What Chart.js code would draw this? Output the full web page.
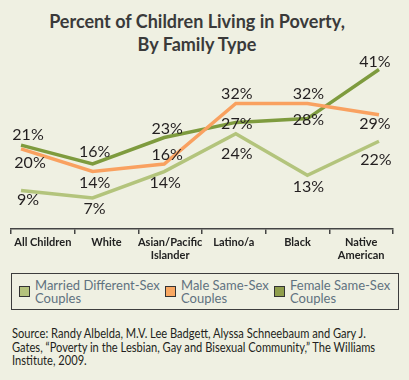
<!DOCTYPE html>
<html>
<head>
<meta charset="utf-8">
<script src="https://cdn.jsdelivr.net/npm/chart.js@4.4.1/dist/chart.umd.min.js"></script>
<style>
  body { margin: 0; background: #eff0e2; width: 409px; height: 380px; overflow: hidden; position: relative; }
  #title { position: absolute; left: 0; top: 10px; width: 394px; text-align: center;
           font: bold 18px Lato, sans-serif; line-height: 23px; color: #3a3a3a; }
  #wrap { position: absolute; left: 0; top: 0; width: 409px; height: 265px; }
  #legend { position: absolute; left: 11px; top: 273px; width: 379px; height: 35px;
            border: 1.5px solid #3d3d3d; display: flex; align-items: center; padding-left: 7px; box-sizing: content-box; }
  .item { display: flex; align-items: center; }
  .swatch { width: 9px; height: 9px; border: 1px solid #333; margin-right: 5px; flex: none; }
  .item span { font: 13px Lato, sans-serif; line-height: 13px; color: #5f7280; }
  #source { position: absolute; left: 12px; top: 326px; white-space: nowrap; transform-origin: 0 0;
            font: 14px Lato, sans-serif; line-height: 13.5px; color: #231f20; }
</style>
</head>
<body>
<div id="title">Percent of Children Living in Poverty,<br>By Family Type</div>
<div id="wrap"><canvas id="chart" width="409" height="265"></canvas></div>
<div id="legend"></div>
<div id="source">Source: Randy Albelda, M.V. Lee Badgett, Alyssa Schneebaum and Gary J.<br>Gates, “Poverty in the Lesbian, Gay and Bisexual Community,” The Williams<br>Institute, 2009.</div>
<script>
// data
const categories = ['All Children', 'White', ['Asian/Pacific', 'Islander'], 'Latino/a', 'Black', ['Native', 'American']];
const seriesNames = ['Married Different-Sex Couples', 'Male Same-Sex Couples', 'Female Same-Sex Couples'];
const marriedDiffSex = [9, 7, 14, 24, 13, 22];
const maleSameSex = [20, 14, 16, 32, 32, 29];
const femaleSameSex = [21, 16, 23, 27, 28, 41];

// where each value label sits relative to its point (dx, dy)
const marriedLabelOffsets = [[7, 9], [2, 11], [1, 10.5], [1, 20], [1, 11], [-3, 18]];
const maleLabelOffsets = [[9, 14], [2, 10.5], [3, -9], [1, -10], [1, -9.5], [-4, 9]];
const femaleLabelOffsets = [[7, -11], [2, -12], [3, -9.5], [1, 1], [1, 0.5], [-4, -8]];

const colors = ['#b3c47c', '#f9a160', '#7e9b3e'];
const swatchColors = ['#b4c27c', '#f9a862', '#8f9e4c'];
const itemWidths = [146, 109, 118];

function toPoints(values) {
    return values.map((v, i) => ({ x: i, y: v }));
}

const valueLabels = {
    id: 'valueLabels',
    afterDatasetsDraw(chart) {
        const ctx = chart.ctx;
        ctx.save();
        ctx.font = '16px Lato, sans-serif';
        ctx.fillStyle = '#231f20';
        ctx.textAlign = 'center';
        ctx.textBaseline = 'alphabetic';
        chart.data.datasets.forEach((ds, di) => {
            const meta = chart.getDatasetMeta(di);
            meta.data.forEach((pt, i) => {
                const off = ds.labelOffsets[i];
                ctx.fillText(ds.data[i].y + '%', pt.x + off[0], pt.y + off[1] + 5.5);
            });
        });
        ctx.restore();
    }
};

const ctx = document.getElementById('chart').getContext('2d');
new Chart(ctx, {
    type: 'line',
    data: {
        datasets: [
            { label: seriesNames[0], data: toPoints(marriedDiffSex), borderColor: colors[0], labelOffsets: marriedLabelOffsets, order: 2 },
            { label: seriesNames[1], data: toPoints(maleSameSex), borderColor: colors[1], labelOffsets: maleLabelOffsets, order: 0 },
            { label: seriesNames[2], data: toPoints(femaleSameSex), borderColor: colors[2], labelOffsets: femaleLabelOffsets, order: 1 }
        ]
    },
    options: {
        responsive: false,
        animation: false,
        devicePixelRatio: 1,
        layout: { padding: { top: 60, left: 11, right: 16, bottom: 0 } },
        elements: {
            line: { borderWidth: 3.5, tension: 0, borderCapStyle: 'butt', borderJoinStyle: 'miter' },
            point: { radius: 0, hoverRadius: 0 }
        },
        plugins: { legend: { display: false }, tooltip: { enabled: false } },
        scales: {
            x: { type: 'linear', min: -0.14, max: 5.196, display: false },
            y: { min: -1.2, max: 43.5, display: false },
            x2: {
                type: 'category',
                labels: categories,
                position: 'bottom',
                offset: true,
                grid: { drawOnChartArea: false, color: '#444', lineWidth: 1.5, tickLength: 5, offset: true },
                border: { display: true, color: '#444', width: 1.5 },
                ticks: { font: { family: 'Lato', weight: 'bold', size: 11 }, color: '#222', padding: 2, maxRotation: 0, autoSkip: false },
                afterFit(scale) { scale.height = 36; }
            }
        }
    },
    plugins: [valueLabels]
});

// legend built from the series names
const legend = document.getElementById('legend');
seriesNames.forEach((name, i) => {
    const item = document.createElement('div');
    item.className = 'item';
    item.style.width = itemWidths[i] + 'px';
    const sw = document.createElement('div');
    sw.className = 'swatch';
    sw.style.background = swatchColors[i];
    const txt = document.createElement('span');
    txt.textContent = name;
    item.appendChild(sw);
    item.appendChild(txt);
    legend.appendChild(item);
});

// the source note uses a condensed face in the original, squeeze to its width
const source = document.getElementById('source');
source.style.transform = 'scaleX(' + (363 / source.scrollWidth) + ')';
</script>
</body>
</html>
